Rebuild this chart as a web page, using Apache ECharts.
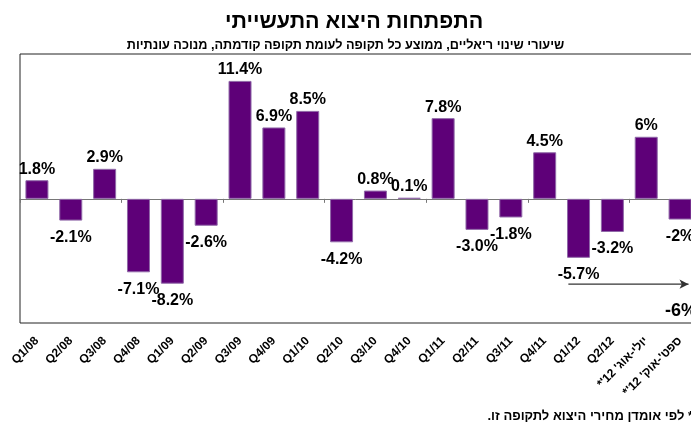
<!DOCTYPE html>
<html>
<head>
<meta charset="utf-8">
<script src="https://cdn.jsdelivr.net/npm/echarts@6/dist/echarts.min.js"></script>
<style>
  html, body { margin: 0; padding: 0; background: #fff; }
  #chart { width: 691px; height: 423px; }
</style>
</head>
<body>
<div id="chart"></div>
<script>
// categories (quarters, plus two bi-monthly estimates)
const categories = ['Q1/08', 'Q2/08', 'Q3/08', 'Q4/08', 'Q1/09', 'Q2/09', 'Q3/09', 'Q4/09', 'Q1/10', 'Q2/10',
  'Q3/10', 'Q4/10', 'Q1/11', 'Q2/11', 'Q3/11', 'Q4/11', 'Q1/12', 'Q2/12',
  "יולי-אוג' 12'*\u200F", "ספט'-אוק' 12'*\u200F"];
// real change rates, %
const values = [1.8, -2.1, 2.9, -7.1, -8.2, -2.6, 11.4, 6.9, 8.5, -4.2, 0.8, 0.1, 7.8, -3.0, -1.8, 4.5, -5.7, -3.2, 6, -2];
const valueLabels = ['1.8%', '-2.1%', '2.9%', '-7.1%', '-8.2%', '-2.6%', '11.4%', '6.9%', '8.5%', '-4.2%',
  '0.8%', '0.1%', '7.8%', '-3.0%', '-1.8%', '4.5%', '-5.7%', '-3.2%', '6%', '-2%'];
// annualised note for the latest period
const trendLabel = '-6%';
const trendArrow = [[16.2, -8.25], [19.75, -8.25]];

const font = "'Liberation Sans', Arial, sans-serif";
let myChart = echarts.init(document.getElementById('chart'));

let option = {
  animation: false,
  textStyle: { fontFamily: font },
  title: [{
    text: 'התפתחות היצוא התעשייתי',
    left: 220,
    top: 6,
    textStyle: { fontSize: 21.5, fontWeight: 'bold', color: '#000', fontFamily: font }
  }, {
    text: 'שיעורי שינוי ריאליים, ממוצע כל תקופה לעומת תקופה קודמתה, מנוכה עונתיות',
    left: 'center',
    top: 34,
    textStyle: { fontSize: 12.7, fontWeight: 'bold', color: '#000', fontFamily: font }
  }, {
    text: '\u200F* לפי אומדן מחירי היצוא לתקופה זו.\u200F',
    right: -7,
    top: 405,
    textStyle: { fontSize: 13, fontWeight: 'bold', color: '#000', fontFamily: font }
  }],
  grid: {
    left: 20,
    top: 54,
    right: -6,
    bottom: 100,
    outerBoundsMode: 'none',
    show: true,
    borderColor: '#222',
    borderWidth: 1
  },
  xAxis: [{
    // zero line with ticks
    type: 'category',
    data: categories,
    axisLine: { onZero: true, lineStyle: { color: '#777', width: 1 } },
    axisTick: { show: true, length: 4, lineStyle: { color: '#777' } },
    axisLabel: { show: false }
  }, {
    // labels along the bottom edge
    type: 'category',
    data: categories,
    position: 'bottom',
    axisLine: { show: false, onZero: false },
    axisTick: { show: false },
    axisLabel: {
      rotate: 45,
      interval: 0,
      margin: 16,
      color: '#000',
      fontSize: 12,
      fontWeight: 'bold',
      fontFamily: font
    }
  }, {
    // helper scale for the arrow annotation
    type: 'value',
    min: 0,
    max: categories.length,
    show: false
  }],
  yAxis: {
    type: 'value',
    min: -12,
    max: 14,
    show: false
  },
  series: [{
    type: 'bar',
    xAxisIndex: 0,
    barWidth: 23,
    itemStyle: {
      color: '#5e0078',
      borderColor: '#9068a8',
      borderWidth: 1
    },
    label: {
      show: true,
      color: '#000',
      fontSize: 16,
      fontWeight: 'bold',
      fontFamily: font,
      formatter: p => valueLabels[p.dataIndex]
    },
    data: values.map(v => ({
      value: v,
      label: v >= 0 ? { position: 'top', distance: 3 } : { position: 'bottom', distance: 9 }
    }))
  }, {
    type: 'line',
    xAxisIndex: 2,
    lineStyle: { color: '#333', width: 1.2 },
    itemStyle: { color: '#333' },
    showSymbol: true,
    silent: true,
    data: [
      { value: trendArrow[0], symbol: 'none' },
      {
        value: trendArrow[1],
        symbol: 'arrow',
        symbolSize: [7, 9],
        symbolRotate: -90,
        label: {
          show: true,
          position: 'bottom',
          distance: 13,
          offset: [-3, 0],
          color: '#000',
          fontSize: 18,
          fontWeight: 'bold',
          fontFamily: font,
          formatter: trendLabel
        }
      }
    ]
  }]
};
myChart.setOption(option);
</script>
</body>
</html>
